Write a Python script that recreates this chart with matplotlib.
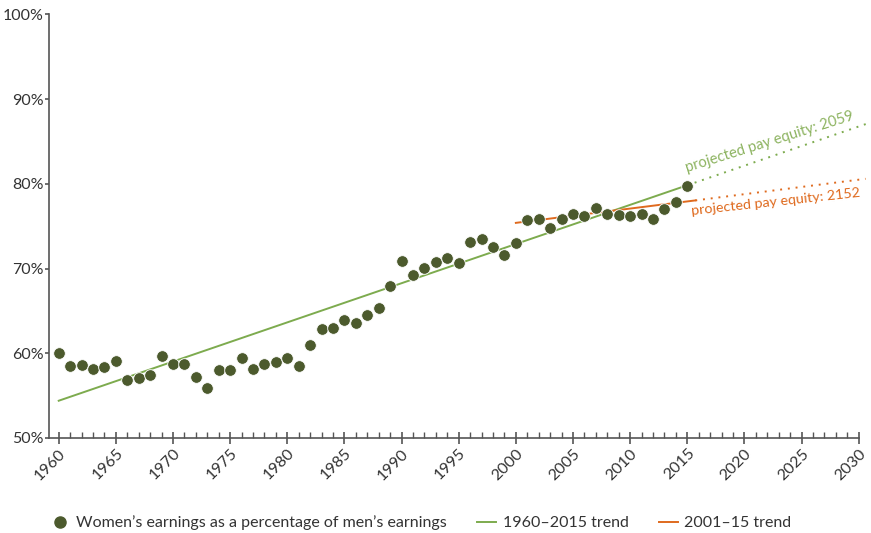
import matplotlib
matplotlib.use("Agg")
import matplotlib.pyplot as plt
from matplotlib.lines import Line2D
import numpy as np

plt.rcParams['font.family'] = ['Lato', 'DejaVu Sans']

years = list(range(1960, 2016))
ratio = [60.0, 58.5, 58.6, 58.2, 58.4, 59.1, 56.9, 57.1, 57.4, 59.7,
         58.7, 58.7, 57.2, 55.9, 58.0, 58.0, 59.5, 58.1, 58.7, 59.0,
         59.5, 58.5, 61.0, 62.9, 63.0, 63.9, 63.6, 64.5, 65.3, 68.0,
         70.9, 69.2, 70.1, 70.8, 71.3, 70.7, 73.1, 73.5, 72.5, 71.6,
         73.0, 75.7, 75.9, 74.8, 75.9, 76.4, 76.2, 77.2, 76.5, 76.3,
         76.2, 76.4, 75.9, 77.0, 77.9, 79.7]

# trend lines: solid segment endpoints and dotted projection endpoints
trend_long_years = [1960, 2015]
trend_long_vals = [54.4, 79.84]
proj_long_years = [2015, 2030.7]
proj_long_vals = [79.84, 87.1]

trend_short_years = [2000, 2015.7]
trend_short_vals = [75.4, 78.05]
proj_short_years = [2015.7, 2030.6]
proj_short_vals = [78.05, 80.6]

xticks = list(range(1960, 2031, 5))
yticks = [50, 60, 70, 80, 90, 100]
ytick_labels = ['50%', '60%', '70%', '80%', '90%', '100%']

dot_color = '#4c5a2d'
green = '#7dab4e'
green_text = '#8cb35f'
orange = '#df6a1e'
axis_color = '#555555'
text_color = '#333333'

fig = plt.figure(figsize=(8.71, 5.33), dpi=100)
ax = fig.add_axes([49/871, 1-438/533, (858.7-49)/871, (438-14.5)/533])

ax.plot(trend_long_years, trend_long_vals, color=green, lw=1.4, zorder=2)
ax.plot(proj_long_years, proj_long_vals, color=green, lw=1.4, ls=(0, (1, 3)),
        zorder=2, clip_on=False)
ax.plot(trend_short_years, trend_short_vals, color=orange, lw=1.4, zorder=3)
ax.plot(proj_short_years, proj_short_vals, color=orange, lw=1.4, ls=(0, (1, 3)),
        zorder=2, clip_on=False)
ax.scatter(years, ratio, s=70, color=dot_color, zorder=4, linewidths=0.6,
           edgecolors='white')

ax.set_xlim(1959.15, 2030)
ax.set_ylim(50, 100)
ax.set_xticks(xticks)
ax.set_xticks(range(1960, 2031), minor=True)
ax.set_yticks(yticks)
ax.set_yticklabels(ytick_labels)

for s in ['top', 'right']:
    ax.spines[s].set_visible(False)
for s in ['left', 'bottom']:
    ax.spines[s].set_color(axis_color)
    ax.spines[s].set_linewidth(1.2)

ax.tick_params(axis='x', which='major', direction='inout', length=8, width=1.2,
               color=axis_color, labelsize=11.5, labelcolor=text_color, pad=2)
ax.tick_params(axis='x', which='minor', direction='in', length=4, width=1,
               color=axis_color)
ax.tick_params(axis='y', which='major', direction='out', length=3, width=1.2,
               color=axis_color, labelsize=11.5, labelcolor=text_color, pad=0.8)
for lab in ax.get_xticklabels():
    lab.set_rotation(45)
    lab.set_ha('right')
    lab.set_va('top')
    lab.set_rotation_mode('anchor')

# rotation of labels follows the projected lines on screen
p0 = ax.transData.transform((proj_long_years[0], proj_long_vals[0]))
p1 = ax.transData.transform((proj_long_years[1], proj_long_vals[1]))
ang_long = np.degrees(np.arctan2(p1[1] - p0[1], p1[0] - p0[0]))
q0 = ax.transData.transform((trend_short_years[0], trend_short_vals[0]))
q1 = ax.transData.transform((proj_short_years[1], proj_short_vals[1]))
ang_short = np.degrees(np.arctan2(q1[1] - q0[1], q1[0] - q0[0]))

ax.text(2015.1, 81.1, 'projected pay equity: 2059', color=green_text,
        fontsize=10.6, rotation=ang_long - 1.5, rotation_mode='anchor',
        ha='left', va='bottom', clip_on=False)
ax.text(2015.4, 76.1, 'projected pay equity: 2152', color=orange,
        fontsize=10.3, rotation=ang_short - 1.0, rotation_mode='anchor',
        ha='left', va='bottom', clip_on=False)

handles = [
    Line2D([], [], marker='o', ls='none', color=dot_color, markersize=8),
    Line2D([], [], color=green, lw=1.4),
    Line2D([], [], color=orange, lw=1.4),
]
labels = ["Women\u2019s earnings as a percentage of men\u2019s earnings",
          '1960\u20132015 trend', '2001\u201315 trend']
fig.legend(handles, labels, loc='center', bbox_to_anchor=(0.4834, 0.0188),
           ncol=3, frameon=False, fontsize=11.5, handlelength=1.2,
           handletextpad=0.4, columnspacing=1.9, labelcolor=text_color)

fig.savefig('out.png', dpi=100)
